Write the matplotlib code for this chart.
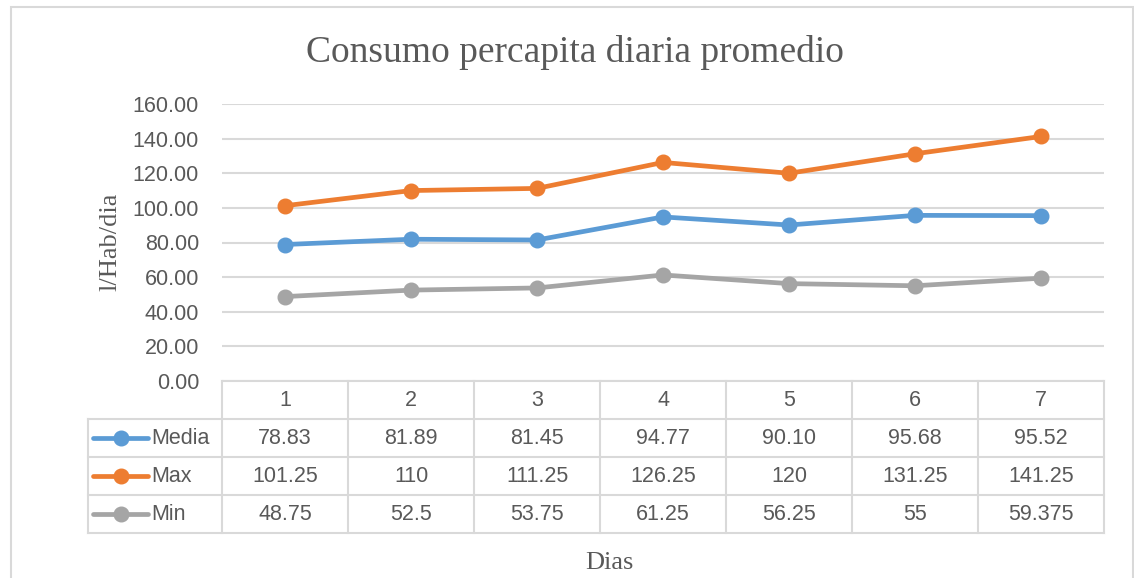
import matplotlib
matplotlib.use("Agg")
import matplotlib.pyplot as plt
from matplotlib.patches import Rectangle
from matplotlib.lines import Line2D

# ---- data ----
dias = [1, 2, 3, 4, 5, 6, 7]
media = [78.83, 81.89, 81.45, 94.77, 90.10, 95.68, 95.52]
maxv = [101.25, 110, 111.25, 126.25, 120, 131.25, 141.25]
minv = [48.75, 52.5, 53.75, 61.25, 56.25, 55, 59.375]
media_lbl = ["78.83", "81.89", "81.45", "94.77", "90.10", "95.68", "95.52"]
max_lbl = ["101.25", "110", "111.25", "126.25", "120", "131.25", "141.25"]
min_lbl = ["48.75", "52.5", "53.75", "61.25", "56.25", "55", "59.375"]
series_names = ["Media", "Max", "Min"]
yticks = [0, 20, 40, 60, 80, 100, 120, 140, 160]

colors = ["#5B9BD5", "#ED7D31", "#A5A5A5"]
grid_c = "#D9D9D9"
txt_c = "#595959"
sans = ["Liberation Sans", "DejaVu Sans"]
serif = ["Liberation Serif", "DejaVu Serif"]

W, H = 1134, 578
fig = plt.figure(figsize=(W / 100, H / 100), dpi=100)

def fx(px):
    return px / W

def fy(py):
    return 1 - py / H

# outer chart border
fig.patches.append(Rectangle((fx(11), -0.05), fx(1133) - fx(11), fy(7) + 0.05,
                             transform=fig.transFigure, fill=False,
                             edgecolor=grid_c, lw=1.5))

# main plot
L, R, T, B = 222, 1104, 104, 381
ax = fig.add_axes([fx(L), fy(B), fx(R) - fx(L), fy(T) - fy(B)])
ax.set_xlim(0.5, 7.5)
ax.set_ylim(0, 160)
ax.set_yticks(yticks)
ax.set_yticklabels([f"{v:.2f}" for v in yticks], family=sans, fontsize=15.5, color=txt_c)
ax.tick_params(axis="y", length=0, pad=16.5)
ax.set_xticks([])
for s in ax.spines.values():
    s.set_visible(False)
ax.grid(axis="y", color=grid_c, lw=1.5)
ax.set_axisbelow(True)
for vals, c in zip([media, maxv, minv], colors):
    ax.plot(dias, vals, color=c, lw=3.4, marker="o", ms=10.5, solid_capstyle="round", zorder=3)

# table axes
TL, TB = 88, 533
tx = fig.add_axes([fx(TL), fy(TB), fx(R) - fx(TL), fy(B) - fy(TB)])
leftw = (L - TL) / ((R - L) / 7)
tx.set_xlim(-leftw, 7)
tx.set_ylim(4, 0)
tx.axis("off")
lk = dict(color=grid_c, lw=1.5, clip_on=False)
tx.plot([0, 7], [0, 0], **lk)
for i in range(8):
    tx.plot([i, i], [0, 4], **lk)
tx.plot([-leftw, -leftw], [1, 4], **lk)
for r in range(1, 5):
    tx.plot([-leftw, 7], [r, r], **lk)
fs_t = 15.5
for i, d in enumerate(dias):
    tx.text(i + 0.5, 0.5, str(d), ha="center", va="center", family=sans, fontsize=fs_t, color=txt_c)
for r, (labels, name, c) in enumerate(zip([media_lbl, max_lbl, min_lbl], series_names, colors), start=1):
    for i, t in enumerate(labels):
        tx.text(i + 0.5, r + 0.5, t, ha="center", va="center", family=sans, fontsize=fs_t, color=txt_c)
    x0 = -leftw + 0.04
    x1 = x0 + 0.44
    tx.add_line(Line2D([x0, x1], [r + 0.5, r + 0.5], color=c, lw=3.4, solid_capstyle="round"))
    tx.plot([(x0 + x1) / 2], [r + 0.5], "o", color=c, ms=10.5)
    tx.text(x1 + 0.02, r + 0.5, name, ha="left", va="center", family=sans, fontsize=fs_t, color=txt_c)

# titles
fig.text(fx(575), fy(53), "Consumo percapita diaria promedio", ha="center", va="center",
         family=serif, fontsize=27, color=txt_c)
fig.text(fx(110), fy(242), "l/Hab/dia", ha="center", va="center", rotation=90,
         family=serif, fontsize=19, color=txt_c)
fig.text(fx(609), fy(563), "Dias", ha="center", va="center", family=serif, fontsize=19, color=txt_c)

fig.savefig("out.png", dpi=100, facecolor="white")
